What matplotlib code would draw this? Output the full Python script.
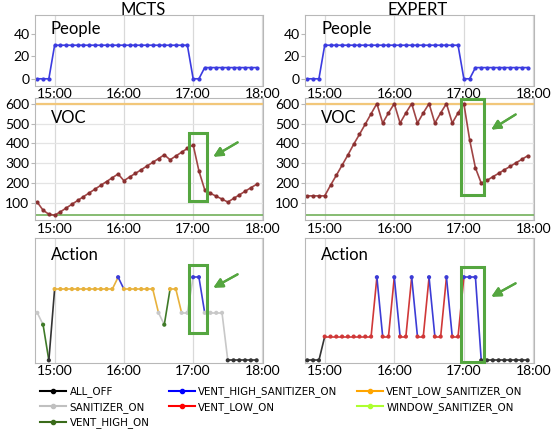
import pandas as pd
import matplotlib.pyplot as plt
import matplotlib.dates as mdates
from matplotlib.lines import Line2D
from matplotlib.patches import Rectangle

# sample times (5 min steps)
times = ["14:45", "14:50", "14:55", "15:00", "15:05", "15:10", "15:15", "15:20",
         "15:25", "15:30", "15:35", "15:40", "15:45", "15:50", "15:55", "16:00",
         "16:05", "16:10", "16:15", "16:20", "16:25", "16:30", "16:35", "16:40",
         "16:45", "16:50", "16:55", "17:00", "17:05", "17:10", "17:15", "17:20",
         "17:25", "17:30", "17:35", "17:40", "17:45", "17:50", "17:55"]

people_mcts = [0, 0, 0, 30, 30, 30, 30, 30, 30, 30, 30, 30, 30, 30, 30, 30,
               30, 30, 30, 30, 30, 30, 30, 30, 30, 30, 30, 0, 0, 10, 10, 10,
               10, 10, 10, 10, 10, 10, 10]
people_expert = [0, 0, 0, 30, 30, 30, 30, 30, 30, 30, 30, 30, 30, 30, 30, 30,
                 30, 30, 30, 30, 30, 30, 30, 30, 30, 30, 30, 0, 0, 10, 10, 10,
                 10, 10, 10, 10, 10, 10, 10]

voc_mcts = [105, 65, 45, 40, 57, 76, 95, 114, 133, 152, 171, 190, 209, 228,
            247, 213, 232, 250, 268, 287, 305, 324, 343, 318, 337, 356, 375,
            393, 262, 168, 150, 135, 121, 106, 124, 142, 160, 178, 195]
voc_expert = [137, 137, 137, 137, 190, 240, 291, 342, 396, 446, 497, 549, 600,
              502, 553, 600, 502, 553, 600, 502, 553, 600, 502, 553, 600, 502,
              553, 600, 418, 277, 201, 215, 233, 250, 268, 285, 303, 320, 338]
voc_high = 600
voc_low = 40

action_names = ["ALL_OFF", "SANITIZER_ON", "VENT_HIGH_ON", "VENT_HIGH_SANITIZER_ON",
                "VENT_LOW_ON", "VENT_LOW_SANITIZER_ON", "WINDOW_SANITIZER_ON"]
OFF, SAN, VHI, VHS, VLO, VLS, WIN = action_names

action_mcts = [SAN, VHI, OFF, VLS, VLS, VLS, VLS, VLS, VLS, VLS, VLS, VLS, VLS,
               VLS, VHS, VLS, VLS, VLS, VLS, VLS, VLS, SAN, VHI, VLS, VLS, SAN,
               SAN, VHS, VHS, SAN, SAN, SAN, SAN, OFF, OFF, OFF, OFF, OFF, OFF]
action_expert = [OFF, OFF, OFF, VLO, VLO, VLO, VLO, VLO, VLO, VLO, VLO, VLO, VHS,
                 VLO, VLO, VHS, VLO, VLO, VHS, VLO, VLO, VHS, VLO, VLO, VHS, VLO,
                 VLO, VHS, VHS, VHS, OFF, OFF, OFF, OFF, OFF, OFF, OFF, OFF, OFF]

# vertical order of the actions in the action panel
action_level = {OFF: 0, VLO: 2, VHI: 3, SAN: 4, WIN: 5, VLS: 6, VHS: 7}
panel_colors = {OFF: "#333333", SAN: "#c8c8c8", VHI: "#3f7a28", VHS: "#3c3cd6",
                VLO: "#d03838", VLS: "#e8b23c", WIN: "#adff2f"}
legend_colors = {OFF: "black", SAN: "#c0c0c0", VHI: "#3a6b1a", VHS: "blue",
                 VLO: "red", VLS: "orange", WIN: "#adff2f"}

W, H = 556, 432
x = pd.to_datetime(["2021-01-01 " + t for t in times])
xmin = pd.Timestamp("2021-01-01 14:43")
xmax = pd.Timestamp("2021-01-01 18:00:30")

plt.rcParams['font.family'] = ['Lato', 'DejaVu Sans']
fig = plt.figure(figsize=(W / 100, H / 100), dpi=100)


def box(px0, py0, px1, py1):
    # pixel box -> figure fraction rect
    return [px0 / W, 1 - py1 / H, (px1 - px0) / W, (py1 - py0) / H]


def style(ax, ygrid=True):
    ax.set_xlim(xmin, xmax)
    ax.xaxis.set_major_locator(mdates.HourLocator())
    ax.xaxis.set_major_formatter(mdates.DateFormatter("%H:%M"))
    ax.grid(axis='x', color='#d9d9d9', lw=0.9)
    if ygrid:
        ax.grid(axis='y', color='#e4e4e4', lw=0.9)
    ax.set_axisbelow(True)
    for s in ax.spines.values():
        s.set_color('#b8b8b8')
    ax.tick_params(axis='x', length=0, labelsize=10, pad=2)
    ax.tick_params(axis='y', length=3, color='#b8b8b8', labelsize=10, pad=1)


cols = [(35, 263, "MCTS", 143, people_mcts, voc_mcts, action_mcts),
        (305, 534, "EXPERT", 418, people_expert, voc_expert, action_expert)]

for x0, x1, title, tx, people, voc, actions in cols:
    fig.text(tx / W, 1 - 10 / H, title, ha='center', va='center', fontsize=12)

    ax = fig.add_axes(box(x0, 15, x1, 85.5))
    ax.plot(x, people, color='#3b3be0', lw=1.2, marker='o', ms=2)
    ax.set_ylim(-6, 57)
    ax.set_yticks([0, 20, 40])
    style(ax, ygrid=False)
    ax.text(0.07, 0.8, "People", transform=ax.transAxes, va='center', fontsize=12)

    ax = fig.add_axes(box(x0, 98, x1, 220))
    ax.axhline(voc_high, color='#f2c77a', lw=1.6)
    ax.axhline(voc_low, color='#72b05a', lw=1.2)
    ax.plot(x, voc, color='#a04545', lw=1.2, marker='o', ms=2, mfc='#8a3030', mec='#8a3030')
    ax.set_ylim(16, 628)
    ax.set_yticks([100, 200, 300, 400, 500, 600])
    style(ax)
    ax.text(0.07, 0.836, "VOC", transform=ax.transAxes, va='center', fontsize=12)

    ax = fig.add_axes(box(x0, 238, x1, 362.7))
    lv = [action_level[a] for a in actions]
    for i in range(len(x) - 1):
        ax.plot(x[i:i + 2], lv[i:i + 2], color=panel_colors[actions[i]], lw=1.2)
    ax.scatter(x, lv, s=4, c=[panel_colors[a] for a in actions], zorder=3)
    ax.set_ylim(-0.2, 10.3)
    ax.set_yticks([])
    style(ax, ygrid=False)
    ax.text(0.07, 0.864, "Action", transform=ax.transAxes, va='center', fontsize=12)

# green highlight boxes and arrows
green = '#55a640'
highlights = [(189, 133, 207, 201, 240, 141, 211, 158),
              (461, 99, 484, 195, 518, 113, 489, 131),
              (189, 265, 207, 333, 240, 273, 211, 289),
              (461, 267, 484, 362, 518, 282, 489, 298)]
for bx0, by0, bx1, by1, ax0, ay0, ax1, ay1 in highlights:
    r = box(bx0, by0, bx1, by1)
    fig.add_artist(Rectangle((r[0], r[1]), r[2], r[3], transform=fig.transFigure,
                             fill=False, ec=green, lw=2.2))
    fig.add_artist(plt.annotate('', xy=(ax1 / W, 1 - ay1 / H), xytext=(ax0 / W, 1 - ay0 / H),
                                xycoords='figure fraction',
                                arrowprops=dict(arrowstyle='-|>,head_length=0.55,head_width=0.28',
                                                color=green, lw=1.6)))

handles = [Line2D([], [], color=legend_colors[a], marker='o', ms=3, lw=1.5, label=a)
           for a in action_names]
fig.legend(handles=handles, loc='upper left', bbox_to_anchor=(35 / W, 1 - 381 / H),
           ncol=3, frameon=False, borderpad=0, handlelength=2.5, handletextpad=0.35,
           columnspacing=1.9, labelspacing=0.45, prop={'family': 'DejaVu Sans', 'size': 7.4})

fig.savefig("out.png", dpi=100)
